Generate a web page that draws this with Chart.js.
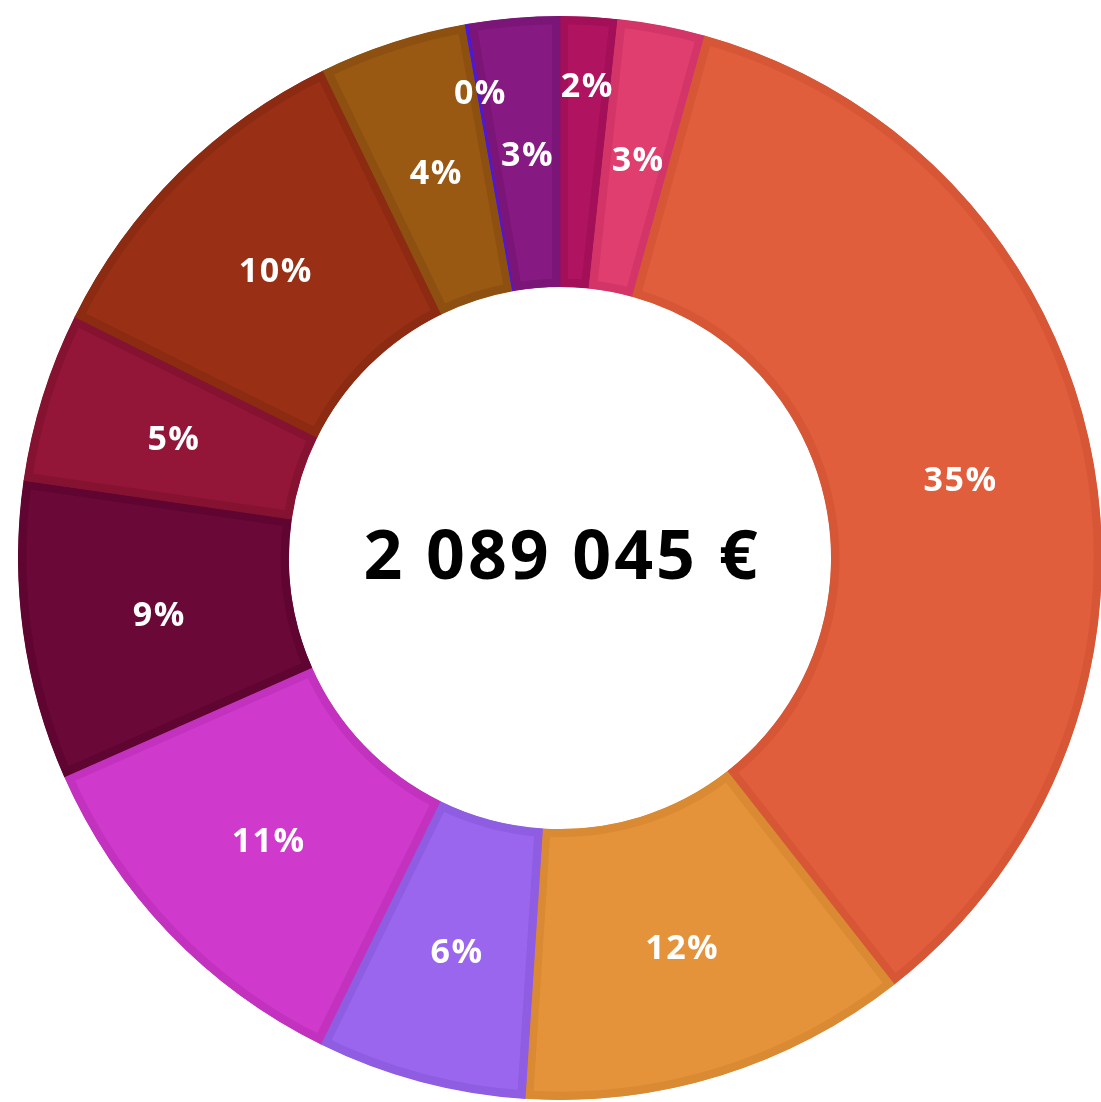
<!DOCTYPE html>
<html lang="fr">
<head>
  <meta charset="UTF-8">
  <title>Répartition</title>
  <script src="https://cdn.jsdelivr.net/npm/chart.js"></script>
  <style>
    html, body {
      margin: 0;
      padding: 0;
      background: #fff;
      overflow: hidden;
    }
    #wrap {
      position: absolute;
      left: 18px;
      top: 16px;
      width: 1084px;
      height: 1084px;
    }
  </style>
</head>
<body>
  <div id="wrap"><canvas id="donut"></canvas></div>

  <script>
    // parts du total (en %), dans le sens horaire depuis midi
    const shares = [1.7, 2.6, 35.1, 11.6, 6.25, 11.1, 8.9, 5.05, 10.45, 4.4, 0.1, 2.7];
    const total = '2 089 045 €';
    const fills = ['#b0135f', '#e03e6f', '#e15e3d', '#e5933a', '#9a66ee', '#d03acc',
                   '#6a0837', '#931638', '#993016', '#9a5913', '#4a1ad8', '#861a82'];
    const borders = ['#a30f58', '#d33568', '#d75636', '#d98a32', '#8e5de2', '#c232bf',
                     '#600431', '#861232', '#8c2a12', '#8d5011', '#4a1ad8', '#7b1578'];

    const sum = shares.reduce((a, b) => a + b, 0);
    const pctLabels = shares.map(v => Math.round(v / sum * 100) + '%');

    // étiquettes blanches sur chaque part
    const sliceLabels = {
      id: 'sliceLabels',
      afterDatasetsDraw(chart) {
        const ctx = chart.ctx;
        const arcs = chart.getDatasetMeta(0).data;
        ctx.save();
        ctx.fillStyle = '#fff';
        ctx.font = 'bold 34px "Open Sans"';
        ctx.letterSpacing = '1.5px';
        ctx.textAlign = 'center';
        ctx.textBaseline = 'middle';
        arcs.forEach((arc, i) => {
          const p = arc.getProps(['x', 'y', 'startAngle', 'endAngle', 'innerRadius', 'outerRadius'], true);
          const mid = (p.startAngle + p.endAngle) / 2;
          const k = shares[i] < 2 ? 0.75 : 0.5;
          const r = p.innerRadius + (p.outerRadius - p.innerRadius) * k;
          ctx.fillText(pctLabels[i], p.x + Math.cos(mid) * r + 2, p.y + Math.sin(mid) * r + 3);
        });
        ctx.restore();
      }
    };

    // montant total au centre
    const centerText = {
      id: 'centerText',
      afterDraw(chart) {
        const ctx = chart.ctx;
        const arc = chart.getDatasetMeta(0).data[0];
        ctx.save();
        ctx.fillStyle = '#000';
        ctx.font = 'bold 68px "Open Sans"';
        ctx.letterSpacing = '3px';
        ctx.textAlign = 'center';
        ctx.textBaseline = 'middle';
        ctx.fillText(total, arc.x + 2, arc.y + 2);
        ctx.restore();
      }
    };

    new Chart(document.getElementById('donut'), {
      type: 'doughnut',
      data: {
        labels: pctLabels,
        datasets: [{
          data: shares,
          backgroundColor: fills,
          borderColor: borders,
          borderWidth: 8,
          borderAlign: 'inner',
          offset: 0,
          hoverOffset: 0
        }]
      },
      options: {
        responsive: true,
        maintainAspectRatio: false,
        animation: false,
        events: [],
        cutout: '50%',
        layout: { padding: 0 },
        plugins: {
          legend: { display: false },
          tooltip: { enabled: false }
        }
      },
      plugins: [sliceLabels, centerText]
    });
  </script>
</body>
</html>
